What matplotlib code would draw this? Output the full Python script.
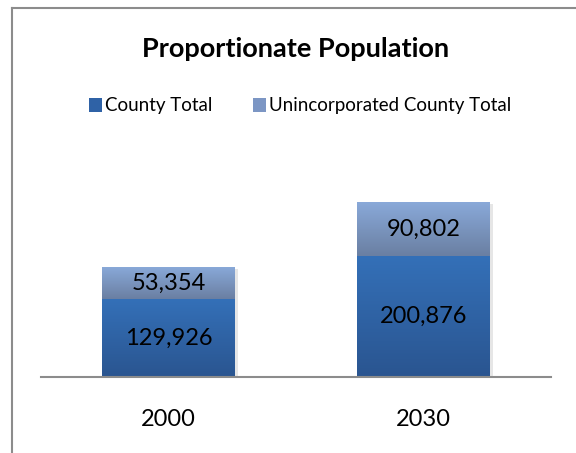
import matplotlib.pyplot as plt
import matplotlib.transforms as mtransforms
import numpy as np
from matplotlib.colors import LinearSegmentedColormap
from matplotlib.lines import Line2D
from matplotlib.patches import Patch

years = ["2000", "2030"]
county_total = [129926, 200876]
unincorporated_total = [53354, 90802]
series_names = ["County Total", "Unincorporated County Total"]

FONT = ["Lato", "DejaVu Sans"]
plt.rcParams["font.family"] = FONT

county_cmap = LinearSegmentedColormap.from_list("county", ["#2a5590", "#3470b8"])
uninc_cmap = LinearSegmentedColormap.from_list("uninc", ["#6a7fa2", "#8aaada"])


def gradient_bars(ax, x, heights, bottoms, width, cmap):
    bars = ax.bar(x, heights, width, bottom=bottoms, color="none",
                  edgecolor="none", zorder=3)
    grad = np.linspace(0, 1, 256).reshape(-1, 1)
    for rect in bars:
        x0, y0 = rect.get_x(), rect.get_y()
        w, h = rect.get_width(), rect.get_height()
        im = ax.imshow(grad, cmap=cmap, origin="lower", aspect="auto",
                       extent=[x0, x0 + w, y0, y0 + h], zorder=3)
        im.set_clip_path(rect)
    return bars


def main():
    fig = plt.figure(figsize=(5.76, 4.53), dpi=100)
    ax = fig.add_axes([41 / 576, 1 - 377 / 453, 510 / 576, 210 / 453])

    x = np.arange(len(years))
    width = 0.52

    # soft shadow behind the stacks
    totals = [a + b for a, b in zip(county_total, unincorporated_total)]
    shadow_tr = ax.transData + mtransforms.ScaledTranslation(3 / 100, -2 / 100, fig.dpi_scale_trans)
    ax.bar(x, totals, width, color="#d6d6d6", alpha=0.6, zorder=2, transform=shadow_tr)

    gradient_bars(ax, x, county_total, [0, 0], width, county_cmap)
    gradient_bars(ax, x, unincorporated_total, county_total, width, uninc_cmap)

    for i in range(len(years)):
        ax.text(x[i], county_total[i] / 2, f"{county_total[i]:,}",
                ha="center", va="center", fontsize=17, zorder=5)
        ax.text(x[i], county_total[i] + unincorporated_total[i] / 2,
                f"{unincorporated_total[i]:,}",
                ha="center", va="center", fontsize=17, zorder=5)

    ax.set_xlim(-0.5, 1.5)
    ax.set_ylim(0, 350000)
    ax.set_xticks(x)
    ax.set_xticklabels(years, fontsize=17)
    ax.tick_params(axis="x", length=0, pad=23)
    ax.set_yticks([])
    for side in ["top", "left", "right"]:
        ax.spines[side].set_visible(False)
    ax.spines["bottom"].set_color("#8c8c8c")
    ax.spines["bottom"].set_linewidth(1.5)
    ax.spines["bottom"].set_zorder(4)

    fig.text(296 / 576, 1 - 49 / 453, "Proportionate Population",
             ha="center", va="center", fontsize=19.5, fontweight="bold")

    handles = [Patch(facecolor="#2f62a6", edgecolor="none"),
               Patch(facecolor="#7c96c4", edgecolor="none")]
    fig.legend(handles, series_names, loc="center", ncol=2,
               bbox_to_anchor=(300 / 576, 1 - 106 / 453), frameon=False,
               fontsize=13.5, handlelength=0.7, handleheight=0.7,
               handletextpad=0.15, columnspacing=2.2)

    # chart frame (left and top edges)
    fig.add_artist(Line2D([11.5 / 576, 11.5 / 576], [0, 1 - 8 / 453],
                          transform=fig.transFigure, color="#8c8c8c", lw=1.5))
    fig.add_artist(Line2D([11.5 / 576, 1], [1 - 8 / 453, 1 - 8 / 453],
                          transform=fig.transFigure, color="#8c8c8c", lw=1.5))

    fig.savefig("out.png", dpi=100)


if __name__ == "__main__":
    main()
